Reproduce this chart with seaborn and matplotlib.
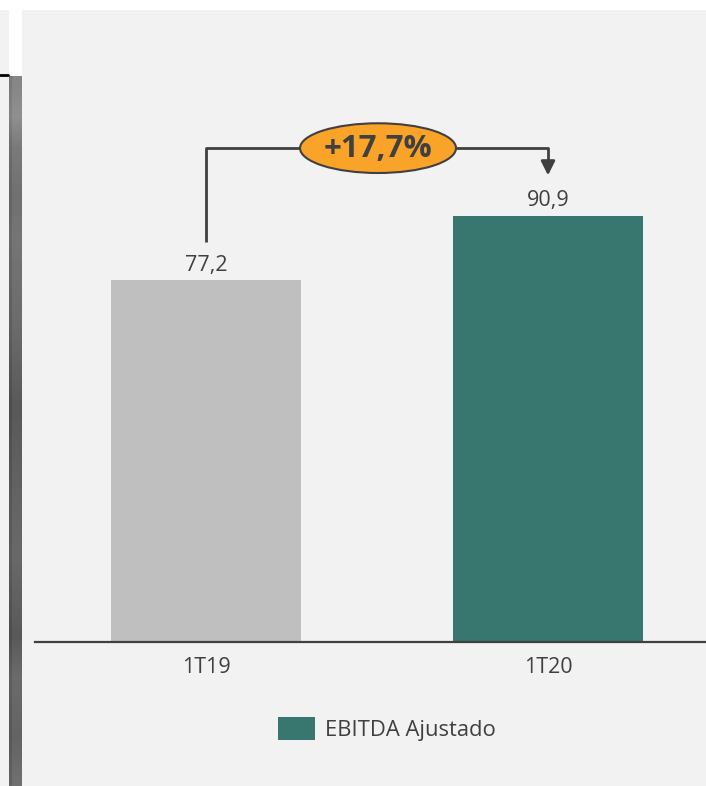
import matplotlib
matplotlib.use("Agg")
import matplotlib.pyplot as plt
from matplotlib.patches import Ellipse, Rectangle, Patch
from matplotlib.lines import Line2D
import numpy as np
import seaborn as sns

# data
periods = ["1T19", "1T20"]
ebitda = [77.2, 90.9]
value_labels = ["77,2", "90,9"]
growth_label = "+17,7%"
legend_label = "EBITDA Ajustado"

GRAY = "#bfbfbf"
TEAL = "#37776f"
ORANGE = "#f9a428"
TEXT = "#404040"
BG = "#f2f2f2"

W, H = 706, 786

sns.set_theme(style="white")
plt.rcParams["font.family"] = ["Open Sans", "DejaVu Sans"]

fig = plt.figure(figsize=(W / 100, H / 100), dpi=100, facecolor=BG)


def fx(px):
    return px / W


def fy(py):
    return 1 - py / H


# slide decoration: white top band, white block and gray strip on the left
fig.patches.append(Rectangle((0, fy(10)), 1, 10 / H, transform=fig.transFigure,
                             facecolor="white", edgecolor="none", zorder=0))
fig.patches.append(Rectangle((fx(9), fy(76)), 13 / W, 66 / H, transform=fig.transFigure,
                             facecolor="white", edgecolor="none", zorder=0))
fig.add_artist(Line2D([0, fx(8)], [fy(75), fy(75)], transform=fig.transFigure,
                      color="black", linewidth=2))
strip = fig.add_axes([fx(9), 0, 13 / W, fy(76)])
stop_y = [0, 40, 70, 120, 160, 250, 330, 420, 480, 560, 600, 660, 710]
stop_v = [0.52, 0.56, 0.48, 0.44, 0.46, 0.42, 0.35, 0.39, 0.41, 0.35, 0.42, 0.39, 0.44]
rows = np.interp(np.arange(710), stop_y, stop_v)
shade = np.tile(rows[:, None], (1, 13))
shade[:, :3] -= 0.05
strip.imshow(shade, cmap="gray", vmin=0, vmax=1, aspect="auto", interpolation="bilinear")
strip.axis("off")

# main chart axes
ppu = 4.69
base = 642
ymax = 110
ax = fig.add_axes([fx(35), fy(base), 684 / W, ymax * ppu / H])
ax.set_facecolor("none")

sns.barplot(x=periods, y=ebitda, hue=periods, palette=[GRAY, TEAL], width=0.556,
            legend=False, saturation=1, linewidth=0, edgecolor="none", ax=ax)
ax.set_xlim(-0.5, 1.5)
ax.set_ylim(0, ymax)
ax.set_xlabel("")
ax.set_ylabel("")
ax.set_yticks([])
for s in ["top", "right", "left"]:
    ax.spines[s].set_visible(False)
ax.spines["bottom"].set_color(TEXT)
ax.spines["bottom"].set_linewidth(1.6)
ax.spines["bottom"].set_zorder(4)
ax.tick_params(axis="x", length=0, pad=11, labelsize=15.5, labelcolor=TEXT)

for i, (v, lab) in enumerate(zip(ebitda, value_labels)):
    ax.text(i, v + 2.0, lab, ha="center", va="baseline", fontsize=15.5, color=TEXT)

# growth bracket
top_y = 105.3
ell_x, ell_w, ell_h = 0.503, 0.456, 10.6
line_kw = dict(color=TEXT, linewidth=2, clip_on=False, solid_capstyle="butt")
ax.plot([0, 0, ell_x - ell_w / 2], [85.3, top_y, top_y], **line_kw)
ax.plot([ell_x + ell_w / 2, 1, 1], [top_y, top_y, 102.0], **line_kw)
ax.annotate("", xy=(1, ebitda[1] + 8.6), xytext=(1, 102.2),
            arrowprops=dict(arrowstyle="-|>,head_length=0.7,head_width=0.35",
                            color=TEXT, linewidth=2, shrinkA=0, shrinkB=0),
            annotation_clip=False)
ax.add_patch(Ellipse((ell_x, top_y), ell_w, ell_h, facecolor=ORANGE, edgecolor=TEXT,
                     linewidth=1.5, clip_on=False, zorder=5))
ax.text(ell_x, top_y - 0.2, growth_label, ha="center", va="center", fontsize=22.5,
        fontweight="bold", color=TEXT, zorder=6)

# legend
fig.legend(handles=[Patch(facecolor=TEAL, edgecolor="none", label=legend_label)],
           loc="center", bbox_to_anchor=(fx(387), fy(729)), frameon=False,
           fontsize=15.8, labelcolor=TEXT, handlelength=1.7, handleheight=1.25,
           handletextpad=0.45, borderpad=0)

fig.savefig("out.png", dpi=100, facecolor=BG)
